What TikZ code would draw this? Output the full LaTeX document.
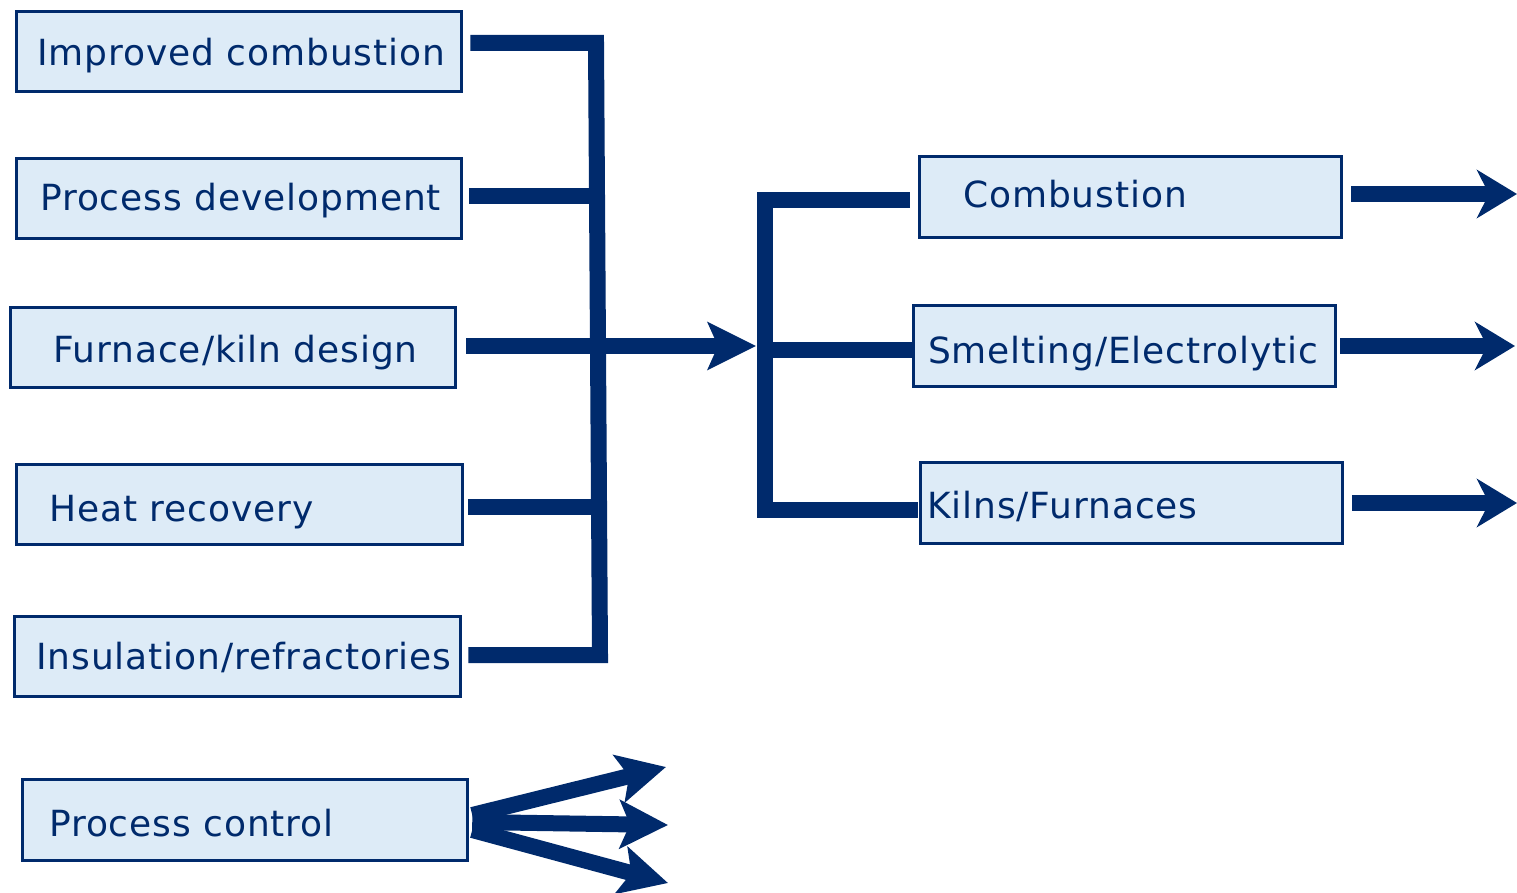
\documentclass[tikz,border=0pt]{standalone}
\usepackage{fontspec}
\setmainfont[LetterSpace=2.5]{DejaVu Sans}
\usetikzlibrary{arrows.meta,calc}
\definecolor{navy}{HTML}{002A6C}
\definecolor{boxfill}{HTML}{DDEBF7}
\begin{document}
\begin{tikzpicture}[x=1pt,y=-1pt,
  box/.style={draw=navy,fill=boxfill,line width=3.5pt,minimum height=80pt,inner sep=0pt},
  lbl/.style={text=navy,font=\fontsize{36}{40}\selectfont,anchor=base west,inner sep=0pt},
  conn/.style={draw=navy,line width=16pt,line join=miter},
  arrA/.style={conn,-{Stealth[length=48pt,width=47pt,inset=10pt]}},
  arrB/.style={conn,-{Stealth[length=40pt,width=48pt,inset=12pt]}},
  arrC/.style={draw=navy,line width=16pt,-{Stealth[length=48pt,width=48pt,inset=10pt]}}]
\useasboundingbox (0,0) rectangle (1517,893);

% left boxes
\node[box,minimum width=445pt] (b1) at (239,51.5) {};
\node[box,minimum width=445pt] (b2) at (239,198.5) {};
\node[box,minimum width=445pt] (b3) at (233,347.5) {};
\node[box,minimum width=446pt] (b4) at (239.5,504.5) {};
\node[box,minimum width=446pt] (b5) at (237.5,656.5) {};
\node[box,minimum width=445pt,minimum height=81pt] (b6) at (245,820) {};
% right boxes
\node[box,minimum width=422pt,minimum height=81pt] (r1) at (1130.5,197) {};
\node[box,minimum width=422pt,minimum height=81pt] (r2) at (1124.5,346) {};
\node[box,minimum width=422pt,minimum height=81pt] (r3) at (1131.5,503) {};

% labels
\node[lbl] (t1) at (37,66) {Improved combustion};
\node[lbl] (t2) at (40,211) {Process development};
\node[lbl] (t3) at (53,362) {Furnace/kiln design};
\node[lbl] (t4) at (49,521) {Heat recovery};
\node[lbl] (t5) at (36,669) {Insulation/refractories};
\node[lbl] (t6) at (49,836) {Process control};
\node[lbl] (t7) at (963,208) {Combustion};
\node[lbl] (t8) at (928,363) {Smelting/Electrolytic};
\node[lbl] (t9) at (927,518) {Kilns/Furnaces};

% left bracket
\coordinate (jt) at (596,43);
\coordinate (jb) at (600,655);
\coordinate (j2) at (598,196);
\coordinate (j4) at (599,507);
\coordinate (tip) at (756,346);
\draw[conn] ($(b1.east |- jt)+(7,0)$) -- (jt) -- (jb) -- ($(b5.east |- jb)+(6,0)$);
\draw[conn] ($(b2.east |- j2)+(6,0)$) -- (j2);
\draw[conn] ($(b4.east |- j4)+(4,0)$) -- (j4);
\draw[arrA] ($(b3.east |- tip)+(9,0)$) -- (tip);

% right bracket
\coordinate (kt) at (765,200);
\coordinate (kb) at (765,510);
\coordinate (km) at (765,350);
\draw[conn] ($(r1.west |- kt)+(-8,0)$) -- (kt) -- (kb) -- ($(r3.west |- kb)+(-1,0)$);
\draw[conn] (km) -- ($(r2.west |- km)+(0,0)$);

% outgoing arrows
\coordinate (o1) at (1517,194);
\coordinate (o2) at (1515,346);
\coordinate (o3) at (1517,503);
\draw[arrB] ($(r1.east |- o1)+(8,0)$) -- (o1);
\draw[arrB] ($(r2.east |- o2)+(3,0)$) -- (o2);
\draw[arrB] ($(r3.east |- o3)+(8,0)$) -- (o3);

% process control arrows
\coordinate (p1) at (666,767);
\coordinate (p2) at (668,825);
\coordinate (p3) at (668,883);
\draw[arrC] ($(b6.east)+(3,-5)$) -- (p1);
\draw[arrC] ($(b6.east)+(3,2)$) -- (p2);
\draw[arrC] ($(b6.east)+(3,10)$) -- (p3);
\end{tikzpicture}
\end{document}
